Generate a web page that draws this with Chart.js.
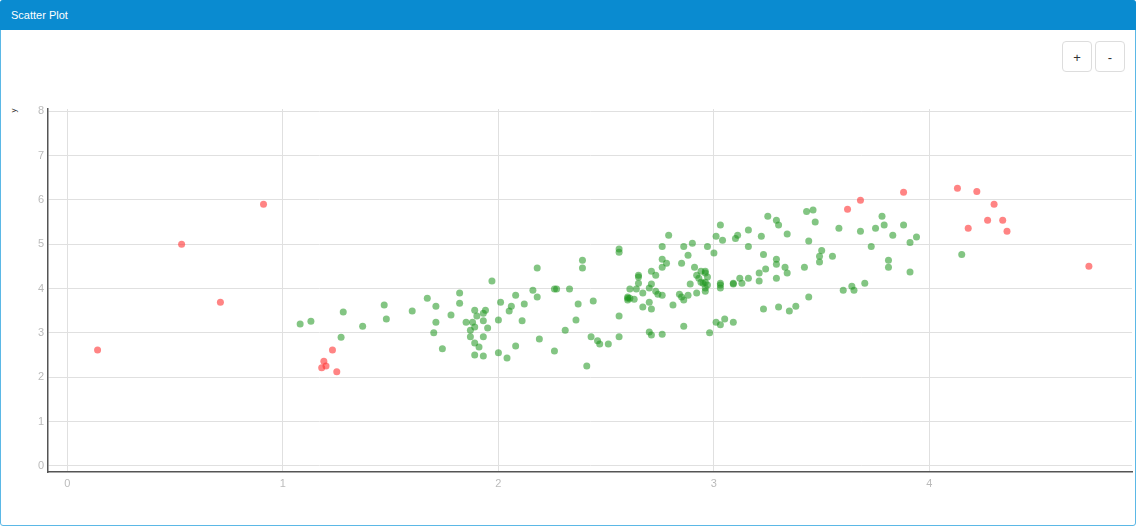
<!DOCTYPE html>
<html><head><meta charset="utf-8">
<script src="https://cdn.jsdelivr.net/npm/chart.js@4"></script>
<style>
body{margin:0;width:1136px;height:526px;overflow:hidden;font-family:"Liberation Sans",Arial,sans-serif;background:#fff}
#card{position:absolute;left:0;top:0;width:1134px;height:524px;border:1px solid #5bb8e6;border-radius:3px;}
#hdr{position:absolute;left:0;top:0;width:1136px;height:30px;background:#0a8bd0;color:#fff;font-size:11px;line-height:30px;padding-left:11px;box-sizing:border-box;border-radius:3px 3px 0 0}
.btn{position:absolute;top:41px;width:30px;height:31px;border:1px solid #ddd;border-radius:4px;background:#fff;font-size:13px;text-align:center;line-height:31px;color:#333;box-sizing:border-box}
#ylab{position:absolute;left:11px;top:106px;font-size:8px;color:#333;transform:rotate(-90deg)}
#wrap{position:absolute;left:0;top:30px;width:1136px;height:466px}
</style></head><body>
<div id="card"></div>
<div id="hdr">Scatter Plot</div>
<div class="btn" style="left:1062px">+</div>
<div class="btn" style="left:1095px">-</div>
<div id="ylab">y</div>
<div id="wrap"><canvas id="c"></canvas></div>
<script>
const redX=[0.14,0.53,0.71,0.91,1.18,1.20,1.19,1.23,1.25,3.62,3.68,3.88,4.13,4.22,4.18,4.27,4.30,4.34,4.36,4.74];
const redY=[2.61,5.0,3.69,5.9,2.21,2.25,2.36,2.61,2.12,5.79,5.99,6.17,6.26,6.19,5.36,5.54,5.9,5.54,5.29,4.5];
const greenX=[1.08,1.13,1.28,1.27,1.37,1.47,1.48,1.60,1.67,1.71,1.71,1.70,1.74,1.78,1.82,1.82,1.85,1.89,1.90,1.93,1.94,1.88,1.89,1.87,1.93,1.95,1.87,1.93,1.89,1.91,1.89,1.93,1.97,2.0,2.01,2.0,2.04,2.08,2.06,2.05,2.08,2.11,2.12,2.16,2.18,2.18,2.19,2.26,2.27,2.33,2.31,2.26,
2.37,2.36,2.39,2.39,2.41,2.43,2.44,2.46,2.47,2.51,2.56,2.56,2.56,2.56,2.61,2.60,2.60,2.61,2.60,2.63,2.64,2.65,2.65,2.65,2.67,2.67,2.70,2.71,2.70,2.71,2.71,2.73,2.73,2.74,2.76,2.76,2.76,2.76,2.78,2.79,2.70,2.71,2.76,2.81,2.84,2.85,2.85,2.86,2.88,2.86,2.88,2.86,2.89,2.90,2.91,2.92,2.92,2.93,2.94,2.94,2.96,2.96,2.97,2.96,2.97,2.96,2.96,2.95,2.97,3.0,2.98,3.01,3.01,3.03,3.04,3.03,3.03,3.03,3.03,3.05,3.09,3.09,3.09,3.10,3.11,3.12,3.13,3.16,3.16,3.16,3.21,3.21,
3.25,3.29,3.30,3.22,3.34,3.23,3.29,3.29,3.24,3.29,3.33,3.34,3.42,3.23,3.30,3.35,3.38,3.44,3.43,3.46,3.47,3.44,3.50,3.49,3.49,3.55,3.58,3.60,3.64,3.65,3.70,3.68,3.73,3.75,3.78,3.79,3.83,3.81,3.81,3.88,3.91,3.91,3.94,4.15];
const greenY=[3.2,3.26,3.47,2.9,3.15,3.63,3.31,3.49,3.78,3.6,3.24,3.0,2.64,3.4,3.9,3.67,3.24,3.51,3.38,3.44,3.51,3.24,3.13,3.06,3.27,3.11,2.91,2.91,2.77,2.68,2.5,2.48,4.17,3.29,3.69,2.55,2.43,3.85,3.6,3.49,2.7,3.27,3.65,3.96,4.46,3.81,2.86,3.99,3.99,3.99,3.06,2.59,
3.65,3.29,4.64,4.46,2.25,2.91,3.72,2.82,2.75,2.75,4.89,4.82,3.38,2.91,3.99,3.81,3.78,3.78,3.74,3.76,3.99,4.12,4.3,4.26,3.9,3.58,4.01,3.54,3.69,4.1,4.39,4.3,3.94,3.87,3.85,4.95,4.66,4.48,4.57,5.2,3.02,2.95,2.97,3.63,3.87,4.57,3.81,3.74,3.85,4.95,4.75,3.15,4.1,5.02,4.48,3.9,4.3,4.23,4.39,4.14,4.39,4.35,4.26,4.14,4.08,4.01,3.94,4.12,4.95,4.8,3.0,3.24,5.18,5.43,5.09,3.18,4.12,4.01,4.08,3.31,4.1,4.12,3.24,5.13,5.2,4.23,4.12,4.95,4.23,5.32,4.35,4.17,
5.63,5.54,5.43,5.18,5.23,4.77,4.66,4.55,4.44,4.23,4.48,4.35,4.48,3.54,3.58,3.49,3.6,3.81,5.74,5.77,5.5,5.07,4.86,4.73,4.6,4.73,5.36,3.96,4.05,3.96,4.12,5.29,4.95,5.36,5.63,5.43,5.2,4.64,4.48,5.43,4.37,5.04,5.16,4.77];
const xTicks=[0,1,2,3,4];
const yTicks=[0,1,2,3,4,5,6,7,8];
const pts=(xs,ys)=>xs.map((x,i)=>({x:x,y:ys[i]}));
new Chart(document.getElementById('c'),{
type:'scatter',
data:{datasets:[
{data:pts(greenX,greenY),backgroundColor:'rgba(30,150,30,0.55)',borderWidth:0,pointRadius:3.5},
{data:pts(redX,redY),backgroundColor:'rgba(255,50,50,0.6)',borderWidth:0,pointRadius:3.5}]},
options:{responsive:true,maintainAspectRatio:false,animation:false,
layout:{padding:{top:79,right:3,left:0,bottom:0}},
plugins:{legend:{display:false},tooltip:{enabled:false}},
scales:{
x:{type:'linear',min:-0.09,max:4.94,
afterBuildTicks:s=>{s.ticks=xTicks.map(v=>({value:v}));},
afterFit:s=>{s.height=24;},
grid:{color:'#e0e0e0',drawTicks:false},border:{color:'#555',width:1.5},
ticks:{color:'#bbb',font:{size:11,family:'Liberation Sans'},padding:5}},
y:{min:-0.14,max:8.05,
afterBuildTicks:s=>{s.ticks=yTicks.map(v=>({value:v}));},
afterFit:s=>{s.width=48;},
grid:{color:'#e0e0e0',drawTicks:false},border:{color:'#555',width:1.5},
ticks:{color:'#bbb',font:{size:11,family:'Liberation Sans'},padding:4}}}}});
</script></body></html>
